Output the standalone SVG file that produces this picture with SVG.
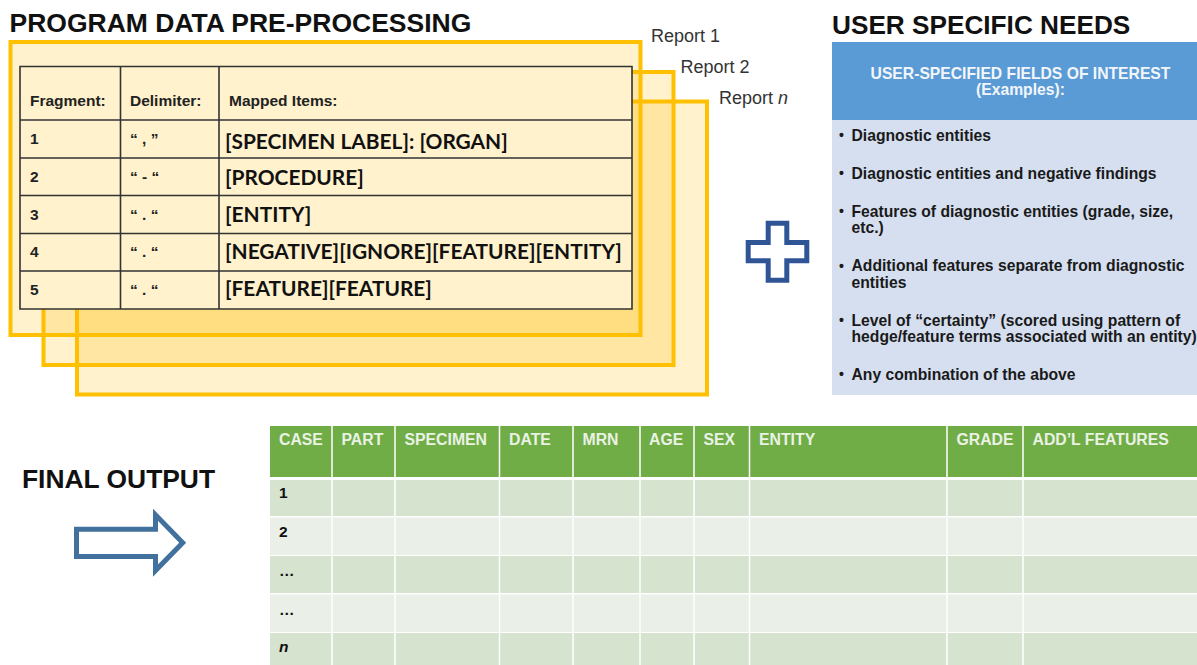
<svg xmlns="http://www.w3.org/2000/svg" width="1197" height="665" viewBox="0 0 1197 665">
<style>
text{font-family:"Liberation Sans",Arial,sans-serif;fill:#111}
.title{font-size:26.5px;font-weight:700}
.card{fill:#FFC000;fill-opacity:.2;stroke:#FFC000;stroke-width:4}
.rep{font-size:18px;fill:#333}
.th{font-size:15.5px;font-weight:700;fill:#222}
.map{font-family:"Lato","Liberation Sans",sans-serif;font-size:20.9px;font-weight:700}
.grid{stroke:#333;stroke-width:1.6;fill:none}
.li{font-size:15.7px;font-weight:700;fill:#1a1a1a}
.bu{font-size:14px;font-weight:700;fill:#1a1a1a}
.hd{font-size:15.8px;font-weight:700;fill:#EAF2E4}
.rh{font-size:15.5px;font-weight:700}
.odd{fill:#D5E3CF}.even{fill:#EAEFE7}
</style>
<rect width="1197" height="665" fill="#fff"/>
<text class="title" x="9.5" y="32">PROGRAM DATA PRE-PROCESSING</text>
<text class="title" x="832" y="34" style="font-size:26.2px">USER SPECIFIC NEEDS</text>
<g id="report-n"><rect class="card" x="77" y="101.500" width="630" height="293"/><text class="rep" x="719" y="104">Report <tspan font-style="italic">n</tspan></text></g>
<g id="report-2"><rect class="card" x="43.500" y="72" width="630" height="293"/><text class="rep" x="680.500" y="73">Report 2</text></g>
<g id="report-1"><rect class="card" x="10.500" y="42" width="630" height="293"/><text class="rep" x="651" y="42">Report 1</text></g>
<g id="mapping-table">
<rect x="20" y="66.500" width="612" height="242.500" fill="#FFF2CC"/>
<path class="grid" d="M20 66.500H632V309H20ZM20 120H632M20 158H632M20 195.500H632M20 233.500H632M20 271H632M120.500 66.500V309M219 66.500V309"/>
<text class="th" x="30" y="106">Fragment:</text><text class="th" x="130" y="106">Delimiter:</text><text class="th" x="229" y="106">Mapped Items:</text>
<text class="th" x="30" y="144">1</text><text class="th" x="130" y="144">“ , ”</text><text class="map" x="225" y="149">[SPECIMEN LABEL]: [ORGAN]</text>
<text class="th" x="30" y="182">2</text><text class="th" x="130" y="182">“ - “</text><text class="map" x="225" y="185">[PROCEDURE]</text>
<text class="th" x="30" y="220">3</text><text class="th" x="130" y="220">“ . “</text><text class="map" x="225" y="222">[ENTITY]</text>
<text class="th" x="30" y="257">4</text><text class="th" x="130" y="257">“ . “</text><text class="map" x="225" y="259">[NEGATIVE][IGNORE][FEATURE][ENTITY]</text>
<text class="th" x="30" y="295">5</text><text class="th" x="130" y="295">“ . “</text><text class="map" x="225" y="296">[FEATURE][FEATURE]</text>
</g>
<g id="plus"><path d="M768.200 223.200H786.800V242.500H806.800V260.800H786.800V280.200H768.200V260.800H748.200V242.500H768.200Z" fill="#fff" stroke="#2F5597" stroke-width="5"/></g>
<g id="user-needs">
<rect x="832" y="42" width="365" height="78" fill="#5B9BD5"/>
<rect x="832" y="120" width="365" height="275" fill="#D5DFF0"/>
<text x="1020.500" y="78.500" text-anchor="middle" font-size="15.700" font-weight="700" style="fill:#F2F6FB">USER-SPECIFIED FIELDS OF INTEREST</text>
<text x="1020.500" y="94.500" text-anchor="middle" font-size="15.700" font-weight="700" style="fill:#F2F6FB">(Examples):</text>
<text class="bu" x="839" y="140">•</text><text class="li" x="851.500" y="140.500">Diagnostic entities</text>
<text class="bu" x="839" y="178">•</text><text class="li" x="851.500" y="178.500">Diagnostic entities and negative findings</text>
<text class="bu" x="839" y="216">•</text><text class="li" x="851.500" y="216.500">Features of diagnostic entities (grade, size,</text><text class="li" x="851.500" y="233">etc.)</text>
<text class="bu" x="839" y="270.500">•</text><text class="li" x="851.500" y="271">Additional features separate from diagnostic</text><text class="li" x="851.500" y="287.500">entities</text>
<text class="bu" x="839" y="325">•</text><text class="li" x="851.500" y="325.500">Level of “certainty” (scored using pattern of</text><text class="li" x="851.500" y="342">hedge/feature terms associated with an entity)</text>
<text class="bu" x="839" y="379">•</text><text class="li" x="851.500" y="379.500">Any combination of the above</text>
</g>
<text id="final-output" x="22" y="488" font-size="26.400" font-weight="700">FINAL OUTPUT</text>
<g id="connectors"><path d="M76.500 529.200H155.500V514.800L182.700 542.800L155.500 570.600V556.500H76.500Z" fill="#fff" stroke="#41719C" stroke-width="5"/></g>
<g id="output-table">
<rect x="270" y="426" width="927" height="51" fill="#70AD47"/>
<rect class="odd" x="270" y="480" width="927" height="36"/>
<rect class="even" x="270" y="517.500" width="927" height="37.500"/>
<rect class="odd" x="270" y="556" width="927" height="37"/>
<rect class="even" x="270" y="594.500" width="927" height="37.500"/>
<rect class="odd" x="270" y="633" width="927" height="32"/>
<path d="M332 426V665M395 426V665M499.500 426V665M573 426V665M640 426V665M694 426V665M749.500 426V665M947 426V665M1023 426V665" stroke="#fff" stroke-width="1.500" fill="none"/>
<text class="hd" x="279" y="444.500">CASE</text><text class="hd" x="341.500" y="444.500">PART</text><text class="hd" x="404.500" y="444.500">SPECIMEN</text><text class="hd" x="509" y="444.500">DATE</text><text class="hd" x="582.500" y="444.500">MRN</text><text class="hd" x="649" y="444.500">AGE</text><text class="hd" x="703.500" y="444.500">SEX</text><text class="hd" x="759" y="444.500">ENTITY</text><text class="hd" x="956.500" y="444.500">GRADE</text><text class="hd" x="1032.500" y="444.500">ADD’L FEATURES</text>
<text class="rh" x="279" y="498">1</text><text class="rh" x="279" y="537">2</text><text class="rh" x="279" y="576">…</text><text class="rh" x="279" y="615">…</text><text class="rh" x="279" y="652" font-style="italic">n</text>
</g>
</svg>
